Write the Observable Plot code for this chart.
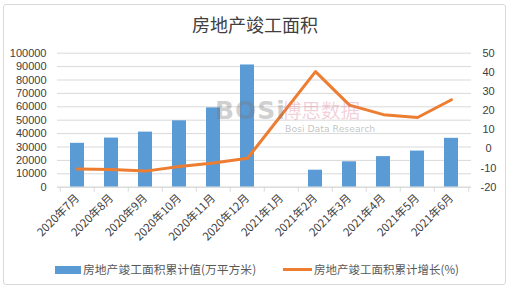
<!DOCTYPE html>
<html><head><meta charset="utf-8">
<script src="https://cdn.jsdelivr.net/npm/d3@7"></script>
<script src="https://cdn.jsdelivr.net/npm/@observablehq/plot@0.6"></script>
<style>
html,body{margin:0;padding:0;background:#fff;}
#wrap{position:relative;width:510px;height:291px;overflow:hidden;font-family:"Noto Sans CJK SC","Noto Sans",sans-serif;}
#frame{position:absolute;left:3px;top:4px;width:503px;height:281px;border:1px solid #d9d9d9;border-radius:3px;box-sizing:border-box;}
#title{position:absolute;left:0;width:510px;top:12px;text-align:center;font-size:18px;color:#404040;line-height:24px;}
#chart{position:absolute;left:0;top:0;}
.leg{position:absolute;font-size:11.5px;color:#595959;line-height:14px;white-space:nowrap;}
.wm{position:absolute;white-space:nowrap;}
.num text{font-family:"Liberation Sans",Arial,sans-serif;}
</style></head>
<body><div id="wrap">
<div id="frame"></div>
<div id="chart"></div>
<div class="wm" style="left:215px;top:100px;font-size:25px;line-height:22px;font-weight:bold;color:rgba(120,120,120,0.35);font-family:'DejaVu Sans';letter-spacing:1px;">BOSi</div>
<div class="wm" style="left:282px;top:100px;font-size:19.5px;line-height:20px;color:rgba(220,120,150,0.35);">博思数据</div>
<div class="wm" style="left:285px;top:124px;font-size:9.3px;line-height:10px;color:rgba(120,120,120,0.45);font-family:'DejaVu Sans';">Bosi Data Research</div>
<div id="title">房地产竣工面积</div>
<div class="leg" style="left:55px;top:262px;font-size:11.8px;"><span style="display:inline-block;width:26px;height:8px;background:#5B9BD5;vertical-align:middle;margin-right:2px;position:relative;top:-1px;"></span>房地产竣工面积累计值(万平方米)</div>
<div class="leg" style="left:283px;top:262px;"><span style="display:inline-block;width:29px;height:3px;background:#ED7D31;vertical-align:middle;margin-right:2px;position:relative;top:-1px;"></span>房地产竣工面积累计增长(%)</div>
</div>
<script>
const months = ["2020年7月","2020年8月","2020年9月","2020年10月","2020年11月","2020年12月","2021年1月","2021年2月","2021年3月","2021年4月","2021年5月","2021年6月"];
const area = [32753, 36667, 41109, 49546, 59188, 91218, null, 12696, 18965, 22839, 26960, 36481];
const growth = [-10.5, -10.8, -11.6, -9.2, -7.3, -4.9, null, 40.4, 22.9, 17.9, 16.4, 25.7];
const leftTicks = [0,10000,20000,30000,40000,50000,60000,70000,80000,90000,100000];
const rightTicks = [-20,-10,0,10,20,30,40,50];

const toLeft = v => (v + 20) / 70 * 100000;
const fromLeft = y => Math.round(y / 100000 * 70 - 20);

const barData = months.map((m,i)=>({m, v: area[i]})).filter(d=>d.v!=null);
const lineData = months.map((m,i)=>({m, g: growth[i]})).filter(d=>d.g!=null);

const W = 510, ML = 57, MR = 39;
const step = (W - ML - MR) / months.length;

const chart = Plot.plot({
  width: W, height: 291,
  marginTop: 52.7, marginBottom: 104.3, marginLeft: ML, marginRight: MR,
  style: {fontFamily: '"Noto Sans CJK SC","Noto Sans",sans-serif', fontSize: "11px", color: "#595959", background: "transparent"},
  x: {type: "band", domain: months, paddingInner: 0.58, paddingOuter: 0.29, label: null},
  y: {domain: [0, 100000], label: null},
  marks: [
    Plot.gridY(leftTicks, {stroke: "#d9d9d9", strokeOpacity: 1}),
    Plot.barY(barData, {x: "m", y: "v", fill: "#5B9BD5"}),
    Plot.ruleY([0], {stroke: "#d9d9d9"}),
    Plot.ruleX(months, {x: d => d, dx: -step / 2, y1: 0, y2: -3700, stroke: "#d9d9d9"}),
    Plot.ruleX(months.slice(-1), {x: d => d, dx: step / 2, y1: 0, y2: -3700, stroke: "#d9d9d9"}),
    Plot.lineY(lineData, {x: "m", y: d => toLeft(d.g), stroke: "#ED7D31", strokeWidth: 3, curve: "linear"}),
    Plot.axisY({ticks: leftTicks, tickSize: 0, tickPadding: 11, tickFormat: d => String(d), label: null, fill: "#404040", fontSize: 11, className: "num"}),
    Plot.axisY({anchor: "right", ticks: rightTicks.map(toLeft), tickSize: 0, tickPadding: 17, tickFormat: d => String(fromLeft(d)), textAnchor: "middle", label: null, fill: "#404040", fontSize: 11, className: "num"}),
    Plot.axisX({tickSize: 0, tickRotate: -45, tickPadding: 9, label: null, fill: "#404040", fontSize: 11.3})
  ]
});
document.getElementById("chart").appendChild(chart);
</script>
</body></html>
